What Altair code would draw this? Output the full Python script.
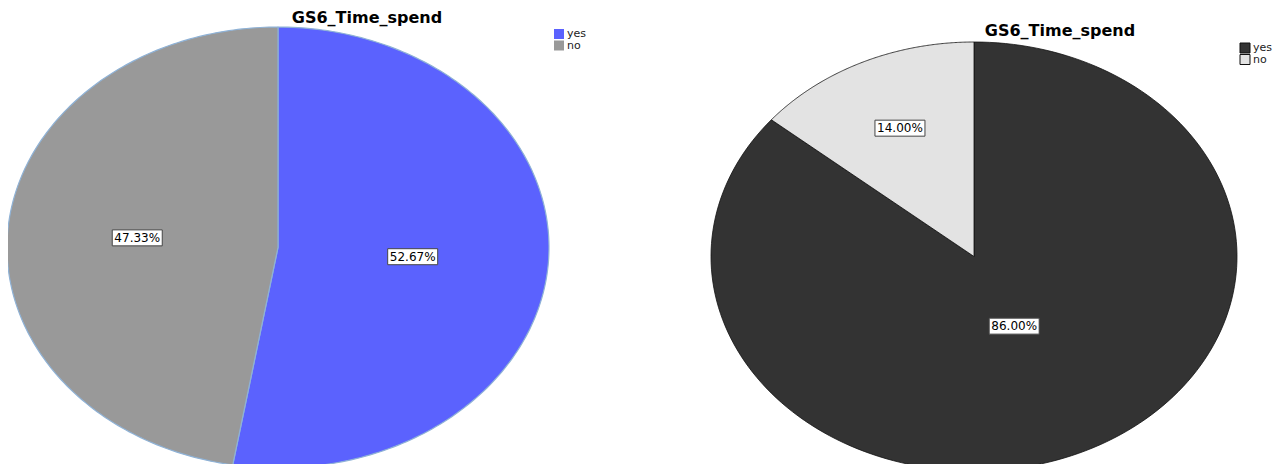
import altair as alt
import pandas as pd

# ---- data ----
categories = ["yes", "no"]
left_values = [52.67, 47.33]
right_values = [86.00, 14.00]
chart_title = "GS6_Time_spend"

# ---- styles ----
left_colors = ["#5b62fe", "#999999"]
right_colors = ["#333333", "#e3e3e3"]
FONT = "DejaVu Sans"
W, H = 1271, 456
N = 180          # points per arc

xs = alt.Scale(domain=[0, W], range=[0, W])
ys = alt.Scale(domain=[0, H], range=[0, H])


def pie(values, colors, cx, cy, rx, ry, stroke, stroke_w, title_x, title_y,
        leg_x, leg_y, leg_stroke):
    df = pd.DataFrame({"category": categories, "value": values,
                       "idx": list(range(len(categories)))})
    fill = alt.Fill("category:N", scale=alt.Scale(domain=categories, range=colors),
                    legend=None)
    base = (alt.Chart(df)
            .transform_window(cum="sum(value)", sort=[alt.SortField("idx")],
                              frame=[None, 0])
            .transform_joinaggregate(total="sum(value)")
            .transform_calculate(start="(datum.cum - datum.value) / datum.total",
                                 end="datum.cum / datum.total"))

    sectors = (base
               .transform_calculate(steps=f"sequence(-1, {N + 1})")
               .transform_flatten(["steps"], as_=["step"])
               .transform_calculate(
                   theta=f"2*PI*(datum.start + (datum.end - datum.start) * max(datum.step, 0) / {N})")
               .transform_calculate(
                   px=f"datum.step < 0 ? {cx} : {cx} + {rx} * sin(datum.theta)",
                   py=f"datum.step < 0 ? {cy} : {cy} - {ry} * cos(datum.theta)")
               .mark_line(interpolate="linear-closed", stroke=stroke,
                          strokeWidth=stroke_w, strokeJoin="round")
               .encode(x=alt.X("px:Q", scale=xs, axis=None),
                       y=alt.Y("py:Q", scale=ys, axis=None),
                       order="step:Q", detail="category:N", fill=fill))

    # label radius shrinks for bigger slices (as in the reference)
    lab = base.transform_calculate(
        mid="PI * (datum.start + datum.end)",
        frac="datum.end - datum.start",
        label="format(datum.value, '.2f') + '%'"
    ).transform_calculate(
        f="0.72 - 0.42 * datum.frac"
    ).transform_calculate(
        lx=f"{cx} + datum.f * {rx} * sin(datum.mid)",
        ly=f"{cy} - datum.f * {ry} * cos(datum.mid)"
    ).transform_calculate(
        bx1="datum.lx - 25", bx2="datum.lx + 25",
        by1="datum.ly - 8", by2="datum.ly + 8")
    boxes = lab.mark_rect(fill="white", stroke="#444444", strokeWidth=1).encode(
        x=alt.X("bx1:Q", scale=xs, axis=None), x2="bx2:Q",
        y=alt.Y("by1:Q", scale=ys, axis=None), y2="by2:Q")
    texts = lab.mark_text(font=FONT, fontSize=12, color="black",
                          baseline="middle").encode(
        x=alt.X("lx:Q", scale=xs, axis=None),
        y=alt.Y("ly:Q", scale=ys, axis=None), text="label:N")

    leg = base.transform_calculate(
        gy=f"{leg_y} + datum.idx * 11.5", gx=f"{leg_x}", tx=f"{leg_x + 8}")
    leg_sq = leg.mark_square(size=100, opacity=1, filled=True,
                             stroke=leg_stroke, strokeWidth=1 if leg_stroke else 0).encode(
        x=alt.X("gx:Q", scale=xs, axis=None),
        y=alt.Y("gy:Q", scale=ys, axis=None), fill=fill)
    leg_tx = leg.mark_text(font=FONT, fontSize=11, align="left", baseline="middle",
                           color="#222222").encode(
        x=alt.X("tx:Q", scale=xs, axis=None),
        y=alt.Y("gy:Q", scale=ys, axis=None), text="category:N")

    title = alt.Chart(pd.DataFrame({"t": [chart_title]})).mark_text(
        font=FONT, fontSize=16, fontWeight="bold", align="center",
        baseline="alphabetic", color="black").encode(
        x=alt.value(title_x), y=alt.value(title_y), text="t:N")

    return alt.layer(sectors, boxes, texts, leg_sq, leg_tx, title)


left = pie(left_values, left_colors, cx=270, cy=239.5, rx=271, ry=220.5,
           stroke="#8fb2d6", stroke_w=1.2, title_x=359, title_y=14.5,
           leg_x=551, leg_y=26, leg_stroke=None)
right = pie(right_values, right_colors, cx=966, cy=248.5, rx=263, ry=214.5,
            stroke="#111111", stroke_w=0.8, title_x=1052, title_y=27.5,
            leg_x=1237, leg_y=40, leg_stroke="#111111")

chart = (alt.layer(left, right)
         .resolve_scale(fill="independent")
         .properties(width=W, height=H, padding=0,
                     autosize=alt.AutoSizeParams(type="none"))
         .configure_view(stroke=None))

chart.save("out.html", embed_options={"renderer": "svg", "actions": False})
